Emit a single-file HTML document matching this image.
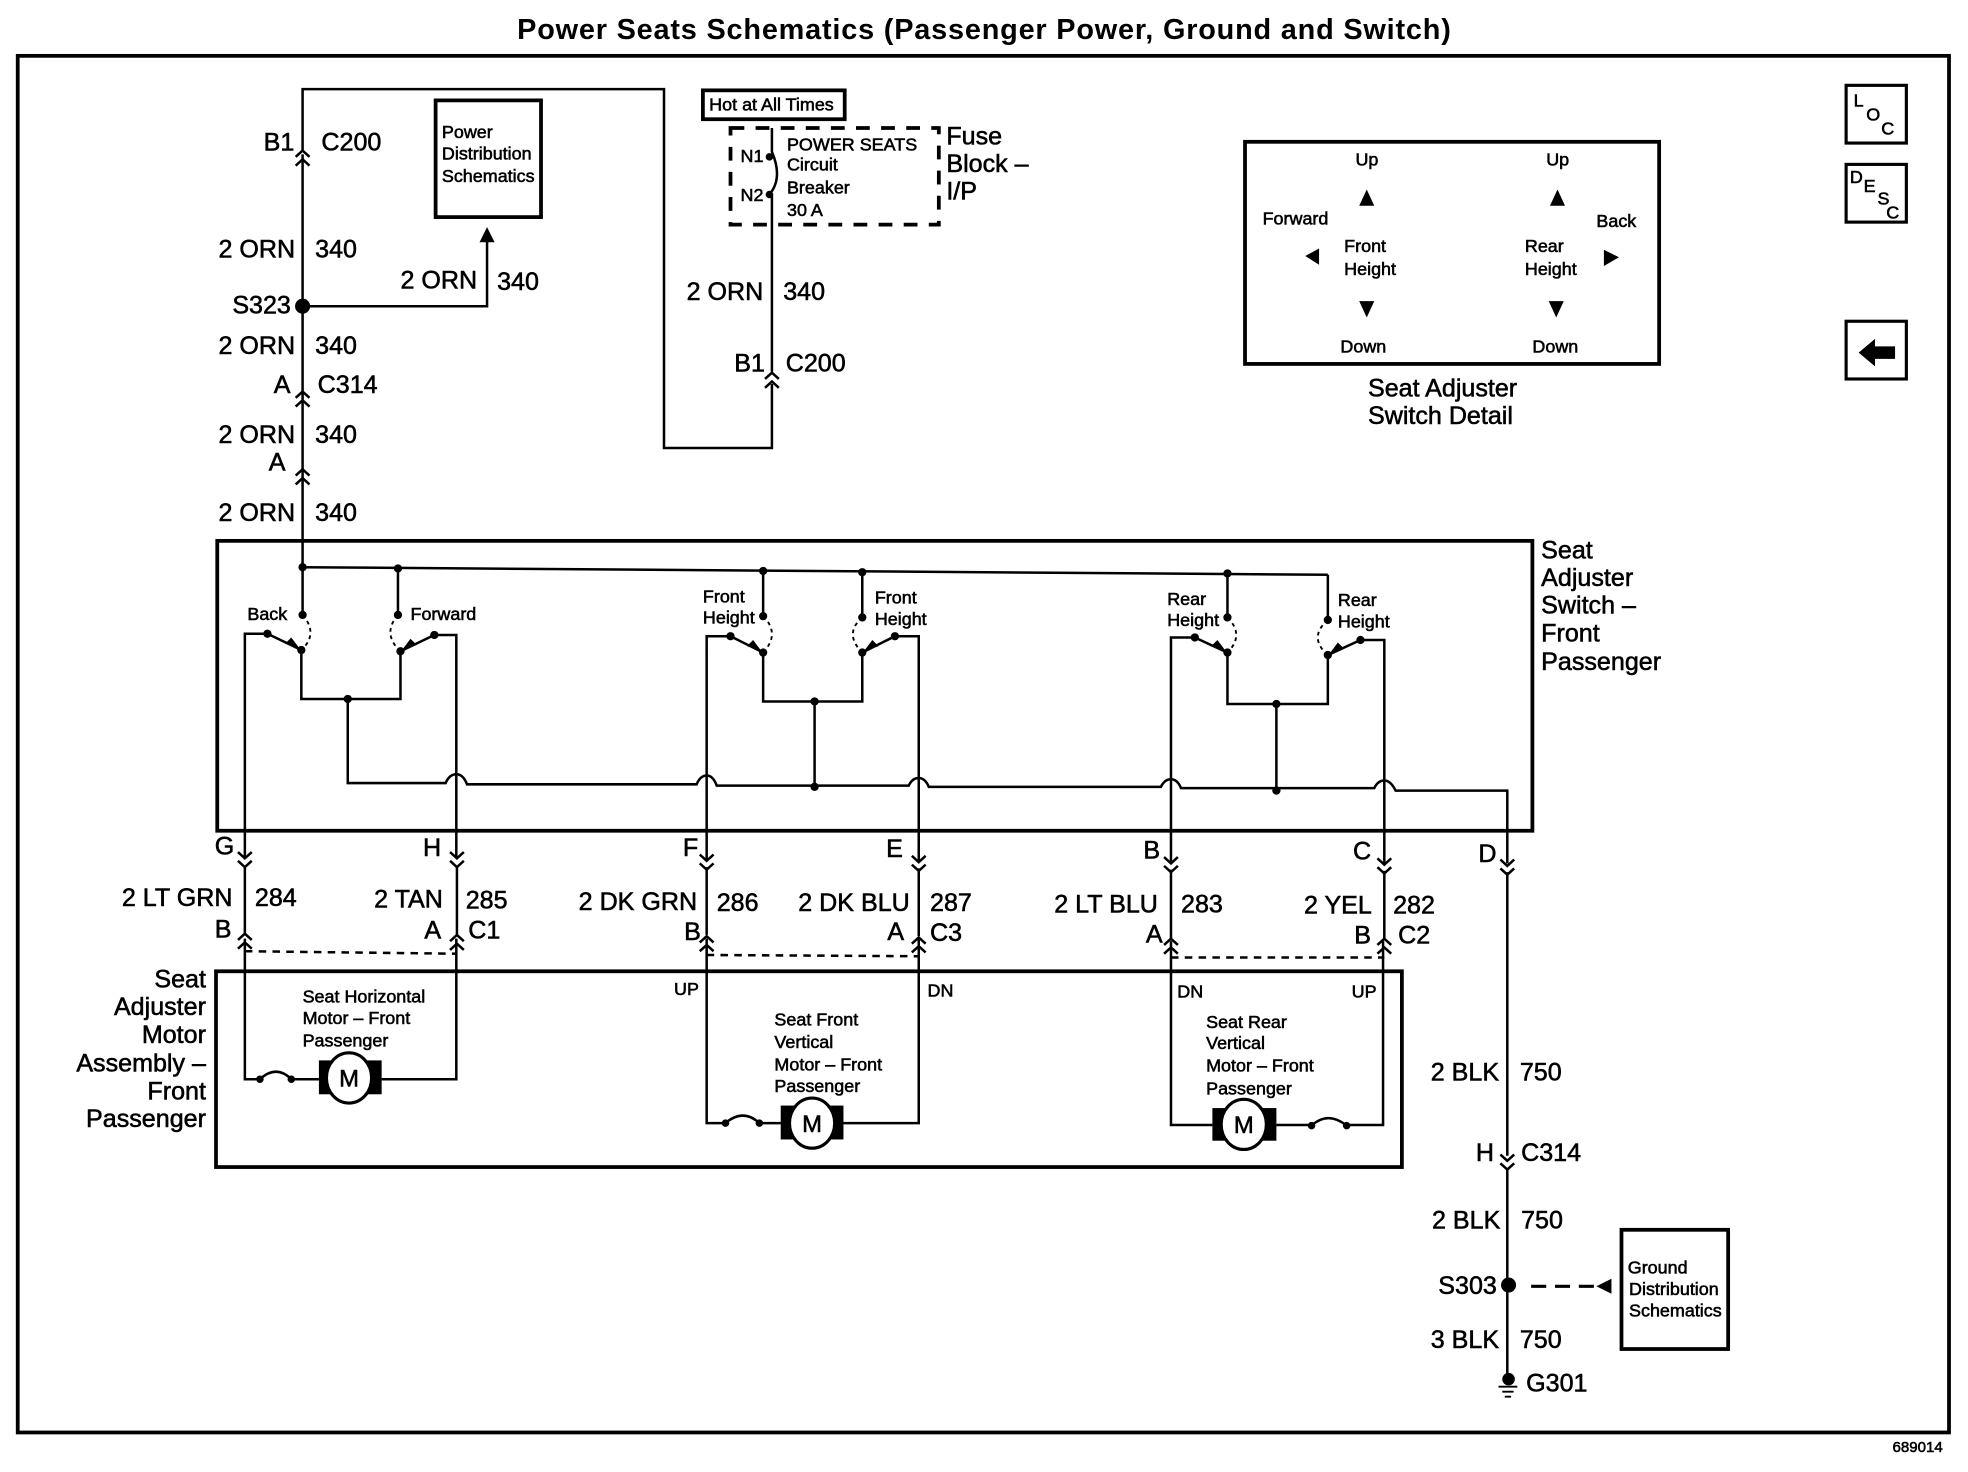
<!DOCTYPE html>
<html><head><meta charset="utf-8"><style>
html,body{margin:0;padding:0;background:#fff}
svg{display:block}
text{font-family:"Liberation Sans",sans-serif;fill:#000;stroke:#000;stroke-width:.45}
.b{font-size:20px}.s{font-size:14.3px}
</style></head><body>
<svg xmlns="http://www.w3.org/2000/svg" width="1968" height="1472" viewBox="0 0 1568 1173">
<defs>
<g id="up" fill="none" stroke="#000" stroke-width="2"><path d="M-5.500 -2L0 -7L5.500 -2"/><path d="M-5.500 5L0 0L5.500 5"/></g>
<g id="dn" fill="none" stroke="#000" stroke-width="2"><path d="M-5.500 -5L0 0L5.500 -5"/><path d="M-5.500 2L0 7L5.500 2"/></g>
</defs>
<rect width="1568" height="1173" fill="#fff"/>
<text x="784" y="31" text-anchor="middle" font-size="23" font-weight="bold" textLength="744" style="stroke-width:0">Power Seats Schematics (Passenger Power, Ground and Switch)</text>
<rect x="14" y="44.500" width="1539" height="1097" fill="none" stroke="#000" stroke-width="3"/>
<rect x="173" y="431" width="1048" height="231" fill="none" stroke="#000" stroke-width="3"/>
<rect x="172" y="774" width="945" height="156" fill="none" stroke="#000" stroke-width="3"/>
<rect x="347" y="80" width="84" height="93" fill="none" stroke="#000" stroke-width="3"/>
<rect x="1292" y="980" width="85" height="95" fill="none" stroke="#000" stroke-width="3"/>
<rect x="992" y="113" width="330" height="177" fill="none" stroke="#000" stroke-width="3"/>
<rect x="560" y="72" width="113" height="23" fill="none" stroke="#000" stroke-width="3"/>
<rect x="582" y="102" width="166" height="77" fill="none" stroke="#000" stroke-width="3" stroke-dasharray="11 9"/>
<rect x="1471" y="68" width="48" height="46" fill="none" stroke="#000" stroke-width="2.500"/>
<rect x="1471" y="131" width="48" height="46" fill="none" stroke="#000" stroke-width="2.500"/>
<rect x="1471" y="256" width="48" height="46" fill="none" stroke="#000" stroke-width="2.500"/>
<polygon points="1481,281 1494,270 1494,276 1510,276 1510,286 1494,286 1494,292"/>
<g fill="none" stroke="#000" stroke-width="2">
<path d="M241 120V71H529V357H615V306"/>
<path d="M241 123V452"/>
<path d="M241 244H388V192"/>
<path d="M615 102V121Q624 142 613 155H615V296"/>
<path d="M241 452L1058 458"/>
<path d="M241 452V490M317 453V490M608 455V491M687 456V492M978 457V492M1058 458V494"/>
<path d="M195 684V505H213L240 518V557H319V519L346 506H363.500V684"/>
<path d="M563 686V507H582L608 520V559H687V520L713 507H732V687"/>
<path d="M933 688V508H952L978 520V561H1058V522L1084 510H1103V689"/>
<path d="M277 557V624H355Q358 617 363.500 617Q369 617 372 625H555Q558 618 563 618Q568 618 571 626H724Q727 620 732 620Q737 620 740 627H925Q928 621 933 621Q938 621 941 628H1095Q1098 622 1103 622Q1108 622 1112 630H1201V688"/>
<path d="M649 559V627M1017 561V630"/>
<path d="M195 690V744M364 690V745M563 691V745M732 692V746M933 693V748M1103 694V748M1201 695V921M1201 932V1100"/>
<path d="M195 748V860H207M232 860H254M304 860H363.500V748"/>
<path d="M563 748V895H578M605 895H622M672 895H732V748"/>
<path d="M933 750V896.500H966M1017 896.500H1045M1073 896.500H1102V750"/>
</g>
<g fill="none" stroke="#000" stroke-width="1.500" stroke-dasharray="3 3">
<path d="M241 490Q254 505 240 518M317 490Q304 505 319 519M608 491Q622 505 608 520M687 492Q672 505 687 520M978 492Q992 506 978 520M1058 494Q1042 508 1058 522"/>
</g>
<g fill="none" stroke="#000" stroke-width="2">
<path d="M207 860Q220 848 232 860M578 895Q592 883 605 895M1045 897Q1058 885 1073 897"/>
</g>
<g fill="none" stroke="#000" stroke-width="2" stroke-dasharray="6 5">
<path d="M195 758L364 760M563 761L732 762M933 763L1103 763"/>
</g>
<path d="M1220 1025H1272" fill="none" stroke="#000" stroke-width="2.500" stroke-dasharray="12 7"/>
<polygon points="1272,1025 1284,1019 1284,1031"/>
<polygon points="388,181 382,193 394,193"/>
<g>
<circle cx="241" cy="244" r="6"/><circle cx="1202" cy="1024" r="6"/>
<circle cx="241" cy="452" r="3.300"/><circle cx="317" cy="453" r="3.300"/><circle cx="608" cy="455" r="3.300"/><circle cx="687" cy="456" r="3.300"/><circle cx="978" cy="457" r="3.300"/>
<circle cx="241" cy="490" r="3.300"/><circle cx="317" cy="490" r="3.300"/><circle cx="608" cy="491" r="3.300"/><circle cx="687" cy="492" r="3.300"/><circle cx="978" cy="492" r="3.300"/><circle cx="1058" cy="494" r="3.300"/>
<circle cx="240" cy="518" r="3.300"/><circle cx="319" cy="519" r="3.300"/><circle cx="608" cy="520" r="3.300"/><circle cx="687" cy="520" r="3.300"/><circle cx="978" cy="520" r="3.300"/><circle cx="1058" cy="522" r="3.300"/>
<circle cx="213" cy="505" r="3.300"/><circle cx="346" cy="506" r="3.300"/><circle cx="582" cy="507" r="3.300"/><circle cx="713" cy="507" r="3.300"/><circle cx="952" cy="508" r="3.300"/><circle cx="1084" cy="510" r="3.300"/>
<circle cx="277" cy="557" r="3.300"/><circle cx="649" cy="559" r="3.300"/><circle cx="1017" cy="561" r="3.300"/><circle cx="649" cy="627" r="3.300"/><circle cx="1017" cy="630" r="3.300"/>
<circle cx="613" cy="125" r="3"/><circle cx="613" cy="155" r="3"/>
<circle cx="207" cy="860" r="3"/><circle cx="232" cy="860" r="3"/><circle cx="578" cy="895" r="3"/><circle cx="605" cy="895" r="3"/><circle cx="1045" cy="897" r="3"/><circle cx="1073" cy="897" r="3"/>
<circle cx="1202" cy="1099" r="5"/>
</g>
<path d="M1194 1105H1209M1197 1109H1206M1199 1113H1204" stroke="#000" stroke-width="1.500"/>
<polygon points="238,516 227,513 232,508"/><polygon points="321,517 332,514 327,509"/>
<polygon points="606,518 595,515 600,510"/><polygon points="689,518 700,515 695,510"/>
<polygon points="976,518 965,515 970,510"/><polygon points="1060,520 1071,517 1066,512"/>
<use href="#up" x="241" y="127"/><use href="#up" x="241" y="319"/><use href="#up" x="241" y="381"/><use href="#up" x="615" y="304"/>
<use href="#dn" x="195" y="684"/><use href="#dn" x="364" y="684"/><use href="#dn" x="563" y="686"/><use href="#dn" x="732" y="687"/><use href="#dn" x="933" y="688"/><use href="#dn" x="1103" y="689"/><use href="#dn" x="1201" y="690"/><use href="#dn" x="1201" y="925"/>
<use href="#up" x="195" y="751"/><use href="#up" x="364" y="752"/><use href="#up" x="563" y="753"/><use href="#up" x="732" y="754"/><use href="#up" x="933" y="755"/><use href="#up" x="1103" y="755"/>
<g>
<rect x="254" y="845" width="50" height="27"/><ellipse cx="278" cy="859" rx="18" ry="20" fill="#fff" stroke="#000" stroke-width="2.500"/>
<rect x="622" y="881" width="50" height="27"/><ellipse cx="647" cy="895" rx="18" ry="20" fill="#fff" stroke="#000" stroke-width="2.500"/>
<rect x="966" y="883" width="51" height="26"/><ellipse cx="991" cy="896" rx="18" ry="20" fill="#fff" stroke="#000" stroke-width="2.500"/>
</g>
<text x="278" y="866" font-size="19" text-anchor="middle">M</text>
<text x="647" y="902" font-size="19" text-anchor="middle">M</text>
<text x="991" y="903" font-size="19" text-anchor="middle">M</text>
<polygon points="1083,164 1095,164 1089,151"/><polygon points="1235,164 1247,164 1241,151"/>
<polygon points="1040,204 1051,198 1051,211"/><polygon points="1290,205 1278,199 1278,212"/>
<polygon points="1083,240 1095,240 1089,253"/><polygon points="1234,240 1246,240 1240,253"/>
<g>
<text class="b" x="210" y="120">B1</text><text class="b" x="256" y="120">C200</text>
<text class="b" x="174" y="205">2 ORN</text><text class="b" x="251" y="205">340</text>
<text class="b" x="319" y="230">2 ORN</text><text class="b" x="396" y="231">340</text>
<text class="b" x="185" y="250">S323</text>
<text class="b" x="174" y="282">2 ORN</text><text class="b" x="251" y="282">340</text>
<text class="b" x="218" y="313">A</text><text class="b" x="253" y="313">C314</text>
<text class="b" x="174" y="353">2 ORN</text><text class="b" x="251" y="353">340</text>
<text class="b" x="214" y="375">A</text>
<text class="b" x="174" y="415">2 ORN</text><text class="b" x="251" y="415">340</text>
<text class="b" x="754" y="115">Fuse</text><text class="b" x="754" y="137">Block –</text><text class="b" x="754" y="159">I/P</text>
<text class="b" x="547" y="239">2 ORN</text><text class="b" x="624" y="239">340</text>
<text class="b" x="585" y="296">B1</text><text class="b" x="626" y="296">C200</text>
<text class="b" x="1090" y="316">Seat Adjuster</text><text class="b" x="1090" y="338">Switch Detail</text>
<text class="b" x="1228" y="445">Seat</text><text class="b" x="1228" y="467">Adjuster</text><text class="b" x="1228" y="489">Switch –</text><text class="b" x="1228" y="511">Front</text><text class="b" x="1228" y="534">Passenger</text>
<text class="b" x="171" y="681">G</text><text class="b" x="337" y="682">H</text><text class="b" x="544" y="682">F</text><text class="b" x="706" y="683">E</text><text class="b" x="911" y="684">B</text><text class="b" x="1078" y="685">C</text><text class="b" x="1178" y="687">D</text>
<text class="b" x="97" y="722">2 LT GRN</text><text class="b" x="203" y="722">284</text><text class="b" x="171" y="747">B</text>
<text class="b" x="298" y="723">2 TAN</text><text class="b" x="371" y="724">285</text><text class="b" x="338" y="748">A</text><text class="b" x="373" y="748">C1</text>
<text class="b" x="461" y="725">2 DK GRN</text><text class="b" x="571" y="726">286</text><text class="b" x="545" y="749">B</text>
<text class="b" x="636" y="726">2 DK BLU</text><text class="b" x="741" y="726">287</text><text class="b" x="707" y="749">A</text><text class="b" x="741" y="750">C3</text>
<text class="b" x="840" y="727">2 LT BLU</text><text class="b" x="941" y="727">283</text><text class="b" x="913" y="751">A</text>
<text class="b" x="1039" y="728">2 YEL</text><text class="b" x="1110" y="728">282</text><text class="b" x="1079" y="752">B</text><text class="b" x="1114" y="752">C2</text>
<g text-anchor="end"><text class="b" x="164" y="787">Seat</text><text class="b" x="164" y="809">Adjuster</text><text class="b" x="164" y="831">Motor</text><text class="b" x="164" y="854">Assembly –</text><text class="b" x="164" y="876">Front</text><text class="b" x="164" y="898">Passenger</text></g>
<text class="b" x="1140" y="861">2 BLK</text><text class="b" x="1211" y="861">750</text>
<text class="b" x="1176" y="925">H</text><text class="b" x="1212" y="925">C314</text>
<text class="b" x="1141" y="979">2 BLK</text><text class="b" x="1212" y="979">750</text>
<text class="b" x="1146" y="1031">S303</text>
<text class="b" x="1140" y="1074">3 BLK</text><text class="b" x="1211" y="1074">750</text>
<text class="b" x="1216" y="1109">G301</text>
</g>
<g>
<text class="s" x="352" y="110">Power</text><text class="s" x="352" y="127">Distribution</text><text class="s" x="352" y="145">Schematics</text>
<text class="s" x="565" y="88" font-size="15">Hot at All Times</text>
<text class="s" x="590" y="129">N1</text><text class="s" x="590" y="160">N2</text>
<text class="s" x="627" y="120">POWER SEATS</text><text class="s" x="627" y="136">Circuit</text><text class="s" x="627" y="154">Breaker</text><text class="s" x="627" y="172">30 A</text>
<text class="s" x="1080" y="132">Up</text><text class="s" x="1232" y="132">Up</text><text class="s" x="1006" y="179">Forward</text><text class="s" x="1272" y="181">Back</text>
<text class="s" x="1071" y="201">Front</text><text class="s" x="1071" y="219">Height</text><text class="s" x="1215" y="201">Rear</text><text class="s" x="1215" y="219">Height</text>
<text class="s" x="1068" y="281">Down</text><text class="s" x="1221" y="281">Down</text>
<text class="s" x="197" y="494">Back</text><text class="s" x="327" y="494">Forward</text>
<text class="s" x="560" y="480">Front</text><text class="s" x="560" y="497">Height</text><text class="s" x="697" y="481">Front</text><text class="s" x="697" y="498">Height</text>
<text class="s" x="930" y="482">Rear</text><text class="s" x="930" y="499">Height</text><text class="s" x="1066" y="483">Rear</text><text class="s" x="1066" y="500">Height</text>
<text class="s" x="537" y="793">UP</text><text class="s" x="739" y="794">DN</text><text class="s" x="938" y="795">DN</text><text class="s" x="1077" y="795">UP</text>
<text class="s" x="241" y="799">Seat Horizontal</text><text class="s" x="241" y="816">Motor – Front</text><text class="s" x="241" y="834">Passenger</text>
<text class="s" x="617" y="817">Seat Front</text><text class="s" x="617" y="835">Vertical</text><text class="s" x="617" y="853">Motor – Front</text><text class="s" x="617" y="870">Passenger</text>
<text class="s" x="961" y="819">Seat Rear</text><text class="s" x="961" y="836">Vertical</text><text class="s" x="961" y="854">Motor – Front</text><text class="s" x="961" y="872">Passenger</text>
<text class="s" x="1297" y="1015">Ground</text><text class="s" x="1298" y="1032">Distribution</text><text class="s" x="1298" y="1049">Schematics</text>
<text class="s" x="1477" y="85">L</text><text class="s" x="1487" y="96">O</text><text class="s" x="1499" y="107">C</text>
<text class="s" x="1474" y="146">D</text><text class="s" x="1485" y="153">E</text><text class="s" x="1496" y="163">S</text><text class="s" x="1503" y="174" font-size="13">C</text>
<text x="1508" y="1157" font-size="12">689014</text>
</g>
</svg>
</body></html>
